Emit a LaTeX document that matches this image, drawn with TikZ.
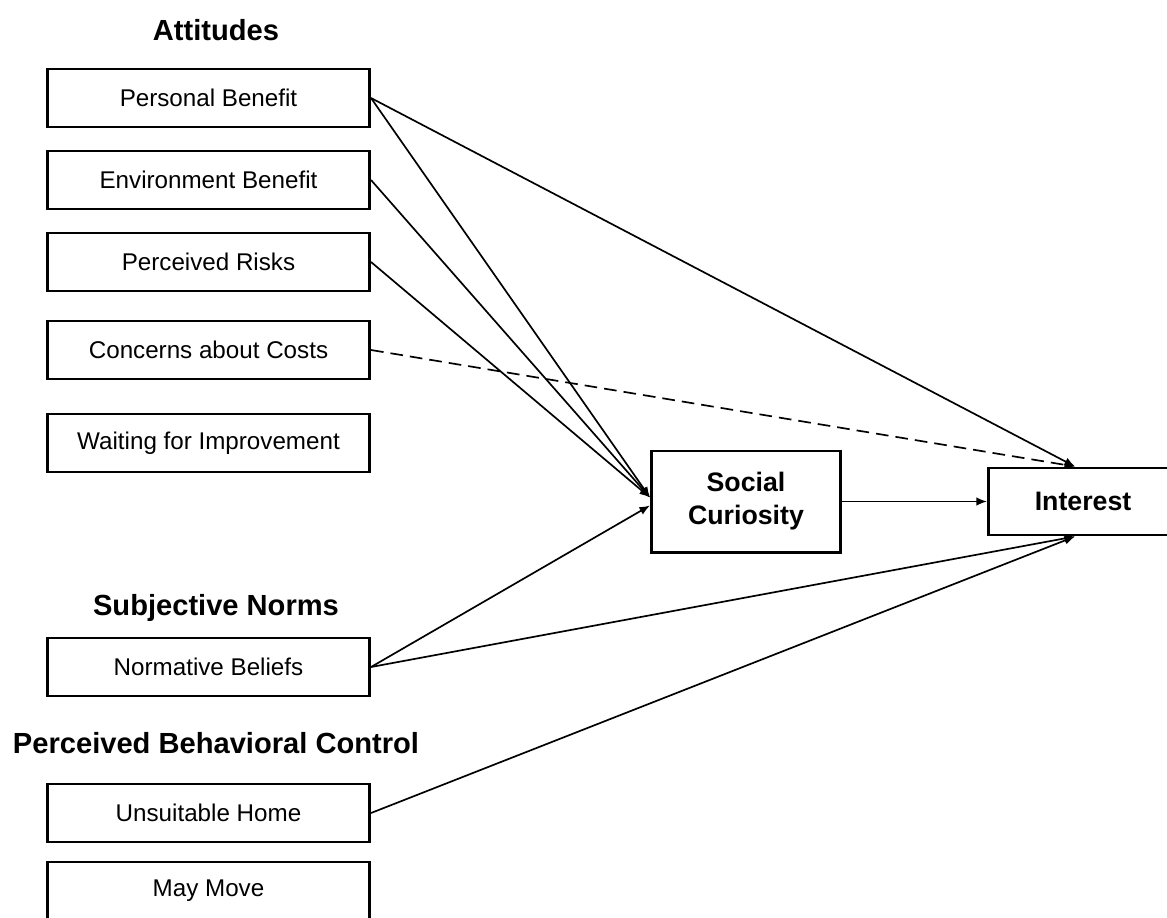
\documentclass[tikz,border=0pt]{standalone}
\usepackage{fontspec}
\setmainfont{Liberation Sans}
\usetikzlibrary{arrows.meta}
\begin{document}
\begin{tikzpicture}[x=0.025cm,y=-0.025cm,
  box/.style={draw, line width=2.1pt, minimum width=8.05cm, minimum height=1.45cm,
    inner sep=0pt, font=\fontsize{17.2}{20}\selectfont},
  keybox/.style={draw, line width=2.1pt, minimum width=4.725cm, inner sep=0pt,
    align=center, font=\fontsize{19}{23.5}\selectfont\bfseries},
  head/.style={inner sep=0pt, font=\fontsize{20.7}{24}\selectfont\bfseries},
  conn/.style={line width=1.2pt, -{Latex[length=7.5pt,width=6pt]}},
  dconn/.style={conn, dash pattern=on 9pt off 5pt}]
\useasboundingbox (0,0) rectangle (1167,917);

\node[head] (hatt) at (216,30) {Attitudes};
\node[head] (hsn) at (216,608) {Subjective Norms};
\node[head] (hpbc) at (216,743) {Perceived Behavioral Control};

\node[box] (pb) at (208.5,98) {Personal Benefit};
\node[box] (eb) at (208.5,180) {Environment Benefit};
\node[box] (pr) at (208.5,262) {Perceived Risks};
\node[box] (cc) at (208.5,350) {Concerns about Costs};
\node[box] (wi) at (208.5,443) {Waiting for Improvement};
\node[box] (nb) at (208.5,667) {Normative Beliefs};
\node[box] (uh) at (208.5,813) {Unsuitable Home};
\node[box] (mm) at (208.5,891) {May Move};

\node[keybox, minimum height=2.525cm] (sc) at (746,501.5) {Social\\Curiosity};
\node[keybox, minimum height=1.675cm] (int) at (1083,501.5) {Interest};

\draw[conn] (pb.east) -- ([xshift=-0.2cm]int.north);
\draw[dconn] (cc.east) -- ([xshift=-0.2cm]int.north);
\draw[conn] (pb.east) -- ([yshift=0.1cm]sc.west);
\draw[conn] (eb.east) -- ([yshift=0.1cm]sc.west);
\draw[conn] (pr.east) -- ([yshift=0.1cm]sc.west);
\draw[conn] (nb.east) -- ([yshift=-0.1cm]sc.west);
\draw[conn] (nb.east) -- ([xshift=-0.2cm]int.south);
\draw[conn] (uh.east) -- ([xshift=-0.2cm]int.south);
\draw[conn] (sc.east) -- (int.west);
\end{tikzpicture}
\end{document}
